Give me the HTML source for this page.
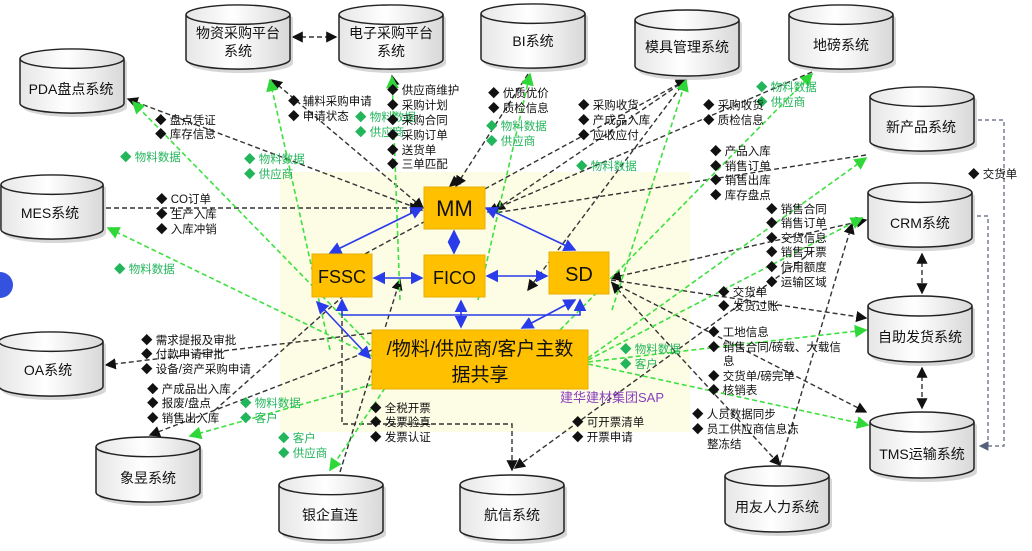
<!DOCTYPE html>
<html><head><meta charset="utf-8"><style>
html,body{margin:0;padding:0;background:#fff;width:1032px;height:551px;overflow:hidden}
svg{display:block}
text{font-family:"Liberation Sans","Noto Sans CJK SC",sans-serif}
.t{font-size:11.5px;fill:#111}
.g{font-size:11.5px;fill:#22b55a}
.c{font-size:14px;fill:#111;text-anchor:middle}
.k{stroke:#333;stroke-width:1.4;stroke-dasharray:5,3;fill:none}
.gr{stroke:#3ee040;stroke-width:1.6;stroke-dasharray:5,3;fill:none}
.b{stroke:#2a3bea;stroke-width:1.6;fill:none}
.gy{stroke:#56607a;stroke-width:1.2;stroke-dasharray:4,3;fill:none}
</style></head><body>
<svg width="1032" height="551" viewBox="0 0 1032 551" xmlns="http://www.w3.org/2000/svg">
<defs>
<linearGradient id="cg" x1="0" y1="0" x2="1" y2="0">
<stop offset="0" stop-color="#e6e6e6"/><stop offset="0.45" stop-color="#ffffff"/><stop offset="1" stop-color="#d8d8d8"/></linearGradient>
<symbol id="cyl" viewBox="0 0 112 72" preserveAspectRatio="none">
<path d="M4,14 A52,10 0 0 1 108,14 V60 A52,10 0 0 1 4,60 Z" fill="#bbb" transform="translate(2,2)" opacity="0.6"/>
<path d="M3,12 A52,10 0 0 1 107,12 V58 A52,10 0 0 1 3,58 Z" fill="url(#cg)" stroke="#222" stroke-width="1.5"/>
<path d="M3,12 A52,10 0 0 0 107,12" fill="none" stroke="#222" stroke-width="1.5"/>
</symbol>
<marker id="ak" markerWidth="8" markerHeight="8" refX="7" refY="4" orient="auto"><path d="M0,0 L8,4 L0,8 Z" fill="#111"/></marker>
<marker id="aks" markerWidth="8" markerHeight="8" refX="1" refY="4" orient="auto"><path d="M8,0 L0,4 L8,8 Z" fill="#111"/></marker>
<marker id="ag" markerWidth="8" markerHeight="8" refX="7" refY="4" orient="auto"><path d="M0,0 L8,4 L0,8 Z" fill="#2fd838"/></marker>
<marker id="ab" markerWidth="8" markerHeight="8" refX="7" refY="4" orient="auto"><path d="M0,0 L8,4 L0,8 Z" fill="#2a3bea"/></marker>
<marker id="abs" markerWidth="8" markerHeight="8" refX="1" refY="4" orient="auto"><path d="M8,0 L0,4 L8,8 Z" fill="#2a3bea"/></marker>
<marker id="ay" markerWidth="8" markerHeight="8" refX="7" refY="4" orient="auto"><path d="M0,0 L8,4 L0,8 Z" fill="#56607a"/></marker>
</defs>

<rect x="280" y="172" width="410" height="260" fill="#fdfde6"/>
<circle cx="0" cy="285" r="13" fill="#3551e0"/>

<!-- black dashed connectors -->
<path class="k" d="M293,37 H336" marker-end="url(#ak)" marker-start="url(#aks)"/>
<path class="k" d="M272,80 L423,208" marker-end="url(#ak)" marker-start="url(#aks)"/>
<path class="k" d="M392,76 L395,90" marker-start="url(#aks)"/>
<path class="k" d="M455,182 L450,186" marker-end="url(#ak)"/>
<path class="k" d="M528,74 L456,186" marker-end="url(#ak)"/>
<path class="k" d="M686,80 L495,210" marker-end="url(#ak)" marker-start="url(#aks)"/>
<path class="k" d="M686,80 L350,262" marker-start="url(#aks)"/>
<path class="k" d="M686,80 L528,290" marker-end="url(#ak)"/>
<path class="k" d="M812,72 L488,212" marker-end="url(#ak)"/>
<path class="k" d="M128,99 L422,210" marker-end="url(#ak)" marker-start="url(#aks)"/>
<path class="k" d="M106,208 H420" marker-end="url(#ak)"/>
<path class="k" d="M866,155 L488,214"/>
<path class="k" d="M866,220 L611,278" marker-start="url(#aks)" marker-end="url(#ak)"/>
<path class="k" d="M611,280 L866,318" marker-end="url(#ak)"/>
<path class="k" d="M611,282 L866,412" marker-end="url(#ak)"/>
<path class="k" d="M612,283 L780,465" marker-end="url(#ak)" marker-start="url(#aks)"/>
<path class="k" d="M780,465 L852,224" marker-end="url(#ak)"/>
<path class="k" d="M812,252 L515,468" marker-end="url(#ak)"/>
<path class="k" d="M372,333 L106,365" marker-end="url(#ak)"/>
<path class="k" d="M350,290 L215,410"/>
<path class="k" d="M372,350 L150,435" marker-end="url(#ak)"/>
<path class="k" d="M340,472 L400,280" marker-end="url(#ak)"/>
<path class="k" d="M342,305 V424 H512 V470" marker-end="url(#ak)"/>
<path class="k" d="M922,254 V293" marker-start="url(#aks)" marker-end="url(#ak)"/>
<path class="k" d="M922,368 V408" marker-start="url(#aks)" marker-end="url(#ak)"/>
<path class="gy" d="M978,120 H1004 V446 H980" marker-end="url(#ay)"/>
<path class="gy" d="M977,216 H988 V446"/>

<!-- green dashed -->
<path class="gr" d="M400,300 L392,77" marker-end="url(#ag)"/>
<path class="gr" d="M330,350 L270,80" marker-end="url(#ag)"/>
<path class="gr" d="M478,300 L530,74" marker-end="url(#ag)"/>
<path class="gr" d="M612,310 L686,80" marker-end="url(#ag)"/>
<path class="gr" d="M560,330 L812,74" marker-end="url(#ag)"/>
<path class="gr" d="M370,345 L133,102" marker-end="url(#ag)"/>
<path class="gr" d="M372,356 L108,228" marker-end="url(#ag)"/>
<path class="gr" d="M588,358 L866,158" marker-end="url(#ag)"/>
<path class="gr" d="M588,360 L862,218" marker-end="url(#ag)"/>
<path class="gr" d="M588,362 L866,330" marker-end="url(#ag)"/>
<path class="gr" d="M588,364 L868,425" marker-end="url(#ag)"/>
<path class="gr" d="M388,380 L190,436" marker-end="url(#ag)"/>
<path class="gr" d="M385,388 L330,470" marker-end="url(#ag)"/>

<!-- blue -->
<path class="b" d="M422,208 L330,253" marker-end="url(#ab)" marker-start="url(#abs)"/>
<path class="b" d="M454,231 V253" marker-end="url(#ab)" marker-start="url(#abs)"/>
<path class="b" d="M486,208 L575,250" marker-end="url(#ab)" marker-start="url(#abs)"/>
<path class="b" d="M374,278 H422" marker-end="url(#ab)" marker-start="url(#abs)"/>
<path class="b" d="M487,276 H547" marker-end="url(#ab)" marker-start="url(#abs)"/>
<path class="b" d="M461,301 V327" marker-end="url(#ab)" marker-start="url(#abs)"/>
<path class="b" d="M317,302 L370,358" marker-end="url(#ab)" marker-start="url(#abs)"/>
<path class="b" d="M342,300 V315 H580 V300" marker-end="url(#ab)" marker-start="url(#abs)"/>
<path class="b" d="M522,328 L575,300" marker-end="url(#ab)" marker-start="url(#abs)"/>

<!-- boxes -->
<rect x="424" y="187" width="61" height="42" fill="#ffc000" stroke="#e8b000"/>
<text x="454.5" y="216" font-size="22" text-anchor="middle" fill="#111">MM</text>
<rect x="312" y="254" width="60" height="43" fill="#ffc000" stroke="#e8b000"/>
<text x="342" y="283" font-size="18" text-anchor="middle" fill="#111">FSSC</text>
<rect x="424" y="255" width="61" height="42" fill="#ffc000" stroke="#e8b000"/>
<text x="454.5" y="284" font-size="18" text-anchor="middle" fill="#111">FICO</text>
<rect x="549" y="252" width="60" height="42" fill="#ffc000" stroke="#e8b000"/>
<text x="579" y="281" font-size="20" text-anchor="middle" fill="#111">SD</text>
<rect x="372" y="330" width="216" height="59" fill="#ffc000" stroke="#e8b000"/>
<text x="480" y="355" font-size="19" text-anchor="middle" fill="#111">/物料/供应商/客户主数</text>
<text x="480" y="381" font-size="19" text-anchor="middle" fill="#111">据共享</text>
<text x="560" y="402" font-size="13" fill="#8a3fbf">建华建材集团SAP</text>

<!-- cylinders -->
<use href="#cyl" x="183" y="3" width="112" height="70"/>
<text class="c" x="238" y="38">物资采购平台</text><text class="c" x="238" y="56">系统</text>
<use href="#cyl" x="336" y="3" width="112" height="70"/>
<text class="c" x="391" y="38">电子采购平台</text><text class="c" x="391" y="56">系统</text>
<use href="#cyl" x="478" y="2" width="112" height="70"/>
<text class="c" x="533" y="46">BI系统</text>
<use href="#cyl" x="632" y="8" width="112" height="72"/>
<text class="c" x="687" y="52">模具管理系统</text>
<use href="#cyl" x="786" y="3" width="112" height="70"/>
<text class="c" x="841" y="50">地磅系统</text>
<use href="#cyl" x="17" y="47" width="112" height="70"/>
<text class="c" x="71" y="94">PDA盘点系统</text>
<use href="#cyl" x="867" y="85" width="112" height="70"/>
<text class="c" x="921" y="132">新产品系统</text>
<use href="#cyl" x="-2" y="173" width="110" height="70"/>
<text class="c" x="50" y="218">MES系统</text>
<use href="#cyl" x="865" y="181" width="112" height="70"/>
<text class="c" x="920" y="228">CRM系统</text>
<use href="#cyl" x="-4" y="330" width="112" height="70"/>
<text class="c" x="48" y="375">OA系统</text>
<use href="#cyl" x="865" y="294" width="112" height="72"/>
<text class="c" x="920" y="342">自助发货系统</text>
<use href="#cyl" x="867" y="410" width="112" height="72"/>
<text class="c" x="922" y="459">TMS运输系统</text>
<use href="#cyl" x="93" y="435" width="112" height="71"/>
<text class="c" x="148" y="483">象昱系统</text>
<use href="#cyl" x="276" y="473" width="112" height="71"/>
<text class="c" x="330" y="520">银企直连</text>
<use href="#cyl" x="457" y="473" width="112" height="71"/>
<text class="c" x="512" y="520">航信系统</text>
<use href="#cyl" x="722" y="464" width="112" height="72"/>
<text class="c" x="777" y="512">用友人力系统</text>

<!-- labels -->
<g dominant-baseline="middle">
<text class="t" x="288" y="102">◆ 辅料采购申请</text>
<text class="t" x="288" y="117">◆ 申请状态</text>
<text class="g" x="355" y="118">◆ 物料数据</text>
<text class="g" x="355" y="133">◆ 供应商</text>
<text class="t" x="387" y="91">◆ 供应商维护</text>
<text class="t" x="387" y="106">◆ 采购计划</text>
<text class="t" x="387" y="121">◆ 采购合同</text>
<text class="t" x="387" y="136">◆ 采购订单</text>
<text class="t" x="387" y="151">◆ 送货单</text>
<text class="t" x="387" y="165">◆ 三单匹配</text>
<text class="t" x="488" y="94">◆ 优质优价</text>
<text class="t" x="488" y="109">◆ 质检信息</text>
<text class="g" x="486" y="127">◆ 物料数据</text>
<text class="g" x="486" y="142">◆ 供应商</text>
<text class="t" x="578" y="106">◆ 采购收货</text>
<text class="t" x="578" y="121">◆ 产成品入库</text>
<text class="t" x="578" y="136">◆ 应收应付</text>
<text class="g" x="576" y="167">◆ 物料数据</text>
<text class="g" x="756" y="88">◆ 物料数据</text>
<text class="g" x="756" y="103">◆ 供应商</text>
<text class="t" x="703" y="106">◆ 采购收货</text>
<text class="t" x="703" y="121">◆ 质检信息</text>
<text class="t" x="710" y="152">◆ 产品入库</text>
<text class="t" x="710" y="167">◆ 销售订单</text>
<text class="t" x="710" y="181">◆ 销售出库</text>
<text class="t" x="710" y="196">◆ 库存盘点</text>
<text class="t" x="766" y="210">◆ 销售合同</text>
<text class="t" x="766" y="224">◆ 销售订单</text>
<text class="t" x="766" y="239">◆ 交货信息</text>
<text class="t" x="766" y="253">◆ 销售开票</text>
<text class="t" x="766" y="268">◆ 信用额度</text>
<text class="t" x="766" y="283">◆ 运输区域</text>
<text class="t" x="968" y="175">◆ 交货单</text>
<text class="t" x="718" y="293">◆ 交货单</text>
<text class="t" x="718" y="307">◆ 发货过账</text>
<text class="t" x="708" y="333">◆ 工地信息</text>
<text class="t" x="708" y="348">◆ 销售合同/磅载、大载信</text>
<text class="t" x="723" y="362">息</text>
<text class="t" x="708" y="377">◆ 交货单/磅完单</text>
<text class="t" x="708" y="391">◆ 核销表</text>
<text class="g" x="620" y="350">◆ 物料数据</text>
<text class="g" x="620" y="365">◆ 客户</text>
<text class="t" x="692" y="415">◆ 人员数据同步</text>
<text class="t" x="692" y="430">◆ 员工供应商信息冻</text>
<text class="t" x="707" y="445">整冻结</text>
<text class="t" x="572" y="423">◆ 可开票清单</text>
<text class="t" x="572" y="438">◆ 开票申请</text>
<text class="t" x="370" y="409">◆ 全税开票</text>
<text class="t" x="370" y="423">◆ 发票验真</text>
<text class="t" x="370" y="438">◆ 发票认证</text>
<text class="g" x="278" y="439">◆ 客户</text>
<text class="g" x="278" y="454">◆ 供应商</text>
<text class="t" x="155" y="121">◆ 盘点凭证</text>
<text class="t" x="155" y="135">◆ 库存信息</text>
<text class="g" x="120" y="158">◆ 物料数据</text>
<text class="g" x="244" y="160">◆ 物料数据</text>
<text class="g" x="244" y="175">◆ 供应商</text>
<text class="t" x="156" y="200">◆ CO订单</text>
<text class="t" x="156" y="215">◆ 生产入库</text>
<text class="t" x="156" y="230">◆ 入库冲销</text>
<text class="g" x="114" y="270">◆ 物料数据</text>
<text class="t" x="141" y="341">◆ 需求提报及审批</text>
<text class="t" x="141" y="355">◆ 付款申请审批</text>
<text class="t" x="141" y="370">◆ 设备/资产采购申请</text>
<text class="t" x="147" y="390">◆ 产成品出入库</text>
<text class="t" x="147" y="404">◆ 报废/盘点</text>
<text class="t" x="147" y="419">◆ 销售出入库</text>
<text class="g" x="240" y="404">◆ 物料数据</text>
<text class="g" x="240" y="419">◆ 客户</text>
</g>
</svg>
</body></html>
